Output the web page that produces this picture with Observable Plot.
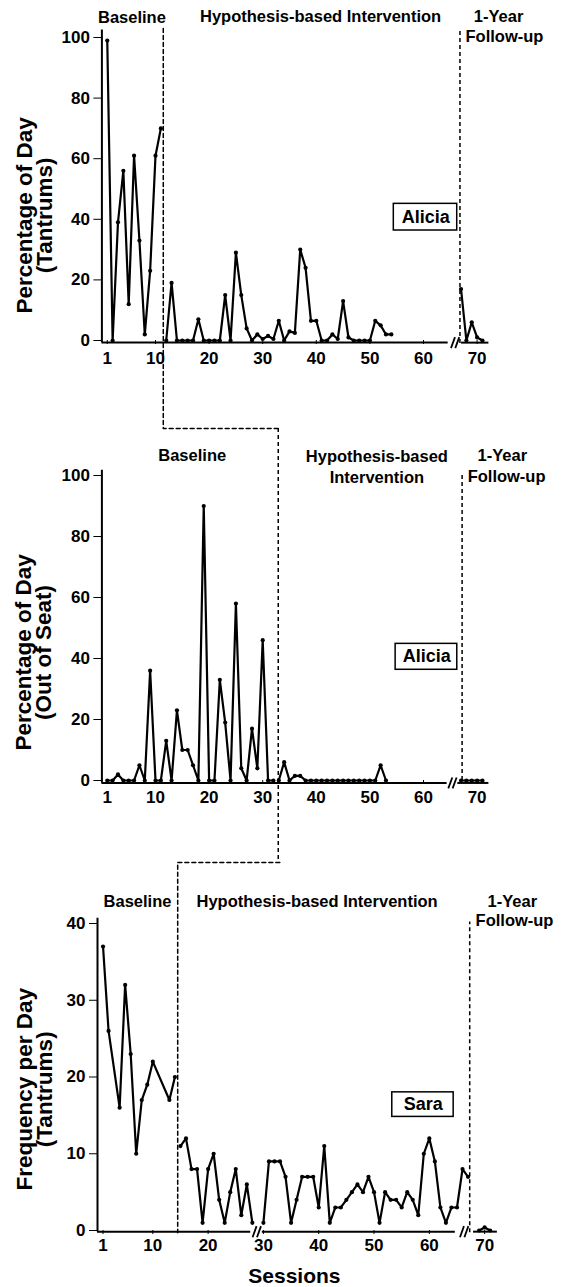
<!DOCTYPE html>
<html><head><meta charset="utf-8">
<script src="https://cdn.jsdelivr.net/npm/d3@7"></script>
<script src="https://cdn.jsdelivr.net/npm/@observablehq/plot@0.6"></script>
<style>
body{margin:0;background:#fff;}
#chart{position:relative;width:566px;height:1287px;background:#fff;}
#chart svg{position:absolute;left:0;overflow:visible;}
</style></head><body><div id="chart"></div>
<script>
// ---------- data ----------
const sessionTicks = [1, 10, 20, 30, 40, 50, 60, 70];
const pctTicks = [0, 20, 40, 60, 80, 100];
const freqTicks = [0, 10, 20, 30, 40];
const phaseNames = ["Baseline", "Hypothesis-based Intervention", "1-Year", "Follow-up"];

// Panel 1: Alicia, tantrums (% of day)
const aliciaTantrumBaseline = [99, 0, 39, 56, 12, 61, 33, 2, 23, 61, 70];            // sessions 1-11
const aliciaTantrumIntervention = [0, 19, 0, 0, 0, 0, 7, 0, 0, 0, 0, 15, 0, 29, 15, 4, 0, 2, 0.5, 1.5, 0.5, 6.5, 0, 3, 2.5, 30, 24, 6.5, 6.5, 0, 0, 2, 0.5, 13, 1, 0, 0, 0, 0, 6.5, 5, 2, 2]; // sessions 12-54
const aliciaTantrumFollowup = [17, 0, 6, 1, 0];                                      // sessions 67-71

// Panel 2: Alicia, out of seat (% of day)
const aliciaSeatBaseline = [0, 0, 2, 0, 0, 0, 5, 0, 36, 0, 0, 13, 0, 23, 10, 10, 5, 0, 90, 0, 0, 33, 19, 0, 58, 4, 0, 17, 4, 46, 0, 0]; // sessions 1-32
const aliciaSeatIntervention = [0, 6, 0, 1.5, 1.5, 0, 0, 0, 0, 0, 0, 0, 0, 0, 0, 0, 0, 0, 0, 5, 0];   // sessions 33-53
const aliciaSeatFollowup = [0, 0, 0, 0, 0];                                                          // sessions 67-71

// Panel 3: Sara, tantrums (frequency per day)
const saraBaselineSessions = [1, 2, 4, 5, 6, 7, 8, 9, 10, 13, 14];
const saraBaseline = [37, 26, 16, 32, 23, 10, 17, 19, 22, 17, 20];
const saraInterventionA = [11, 12, 8, 8, 1, 8, 10, 4, 1, 5, 8, 2, 6, 1];             // sessions 15-28
const saraInterventionB = [1, 9, 9, 9, 7, 1, 4, 7, 7, 7, 3, 11, 1, 3, 3, 4, 5, 6, 5, 7, 5, 1, 5, 4, 4, 3, 5, 4, 2, 10, 12, 9, 3, 1, 3, 3, 8, 7]; // sessions 30-67
const saraFollowupSessions = [69, 70, 71];
const saraFollowup = [0, 0.4, 0];

// ---------- helpers ----------
const seq = (start, values, phase) => values.map((v, i) => ({session: start + i, value: v, phase}));
const font = "'Liberation Sans', Arial, Helvetica, sans-serif";
const baseStyle = {fontFamily: font, fontSize: "17px", fontWeight: "bold", background: "transparent", overflow: "visible", color: "black"};
const dash = "4,3";
const txt = (s, x, y, o = {}) => Plot.text([s], {x, y, text: d => d, fontSize: 16.5, fontWeight: "bold", fill: "black", lineAnchor: "middle", ...o});
const dataMarks = rows => [
  Plot.line(rows, {x: "session", y: "value", z: "phase", stroke: "black", strokeWidth: 2.2, strokeLinejoin: "round"}),
  Plot.dot(rows, {x: "session", y: "value", r: 2.1, fill: "black", stroke: "none"})
];
// axis-break "//" marks drawn as two slanted strokes
const breakMarks = (centers, y0, h, lean, gap) => centers.flatMap(c => [-gap / 2, gap / 2].map(o => ({x1: c + o - lean / 2, y1: y0 - h / 2, x2: c + o + lean / 2, y2: y0 + h / 2})));
const breakLinks = segs => Plot.link(segs, {x1: "x1", y1: "y1", x2: "x2", y2: "y2", stroke: "black", strokeWidth: 1.8});
const chart = document.getElementById("chart");
function place(svg, top) { svg.style.top = top + "px"; chart.appendChild(svg); }

// ---------- panel 1 ----------
const rows1 = [
  ...seq(1, aliciaTantrumBaseline, "b"),
  ...seq(12, aliciaTantrumIntervention, "i"),
  ...seq(67, aliciaTantrumFollowup, "f")
];
const p1 = Plot.plot({
  width: 566, height: 430,
  marginLeft: 101.4, marginRight: 77.6, marginTop: 37, marginBottom: 90,
  x: {domain: [0, 72.2]},
  y: {domain: [0, 100]},
  style: baseStyle,
  marks: [
    Plot.ruleX([0], {y1: -0.7, y2: 102.5, strokeWidth: 2}),
    Plot.axisY({ticks: pctTicks, tickSize: 8, tickPadding: 4, label: null, fontSize: 17}),
    Plot.ruleY([[0, 64.6], [67.1, 72.2]], {y: -0.7, x1: d => d[0], x2: d => d[1], strokeWidth: 2}),
    Plot.axisX({ticks: sessionTicks, tickSize: 4, tickPadding: 7, label: null, fontSize: 17}),
    breakLinks(breakMarks([65.9], -0.7, 3.6, 0.75, 0.8)),
    Plot.line([[11.45, 103], [11.45, -29.05], [32.9, -29.05]], {x: d => d[0], y: d => d[1], stroke: "black", strokeWidth: 1.5, strokeDasharray: dash}),
    Plot.ruleX([66.8], {y1: -1, y2: 102, stroke: "black", strokeWidth: 1.5, strokeDasharray: dash}),
    ...dataMarks(rows1),
    Plot.rect([0], {x1: 54.46, x2: 66.29, y1: 36.3, y2: 45.1, fill: "white", stroke: "black", strokeWidth: 1.5}),
    txt("Alicia", 60.4, 40.7, {fontSize: 18}),
    txt(phaseNames[0], 5.6, 106.5),
    txt(phaseNames[1], 40.8, 106.7),
    txt(phaseNames[2], 74.0, 106.7),
    txt(phaseNames[3], 75.1, 100.1),
    txt("Percentage of Day\n(Tantrums)", -12.4, 41.3, {rotate: -90, fontSize: 22.5, lineHeight: 0.88})
  ]
});
place(p1, 0);

// ---------- panel 2 ----------
const rows2 = [
  ...seq(1, aliciaSeatBaseline, "b"),
  ...seq(33, aliciaSeatIntervention, "i"),
  ...seq(67, aliciaSeatFollowup, "f")
];
const p2 = Plot.plot({
  width: 566, height: 430,
  marginLeft: 101.4, marginRight: 77.6, marginTop: 45, marginBottom: 80,
  x: {domain: [0, 72.2]},
  y: {domain: [0, 100]},
  style: baseStyle,
  marks: [
    Plot.ruleX([0], {y1: -0.8, y2: 101.7, strokeWidth: 2}),
    Plot.axisY({ticks: pctTicks, tickSize: 8, tickPadding: 4, label: null, fontSize: 17}),
    Plot.ruleY([[0, 64.4], [66.4, 72.2]], {y: -0.8, x1: d => d[0], x2: d => d[1], strokeWidth: 2}),
    Plot.axisX({ticks: sessionTicks, tickSize: 4, tickPadding: 6, label: null, fontSize: 17}),
    breakLinks(breakMarks([65.4], -0.8, 3.6, 0.75, 0.8)),
    Plot.ruleX([32.9], {y1: 115.4, y2: -26.9, stroke: "black", strokeWidth: 1.5, strokeDasharray: dash}),
    Plot.ruleX([67.2], {y1: 0, y2: 101, stroke: "black", strokeWidth: 1.5, strokeDasharray: dash}),
    ...dataMarks(rows2),
    Plot.rect([0], {x1: 54.8, x2: 66.3, y1: 36.3, y2: 44.8, fill: "white", stroke: "black", strokeWidth: 1.5}),
    txt("Alicia", 60.6, 40.6, {fontSize: 18}),
    txt(phaseNames[0], 16.85, 106.6),
    txt("Hypothesis-based\nIntervention", 51.3, 103.2, {lineHeight: 1.3}),
    txt(phaseNames[2], 74.7, 106.6),
    txt(phaseNames[3], 75.5, 99.7),
    txt("Percentage of Day\n(Out of Seat)", -12.6, 42, {rotate: -90, fontSize: 22.5, lineHeight: 0.88})
  ]
});
place(p2, 430);

// ---------- panel 3 ----------
const rows3 = [
  ...saraBaselineSessions.map((s, i) => ({session: s, value: saraBaseline[i], phase: "b"})),
  ...seq(15, saraInterventionA, "ia"),
  ...seq(30, saraInterventionB, "ib"),
  ...saraFollowupSessions.map((s, i) => ({session: s, value: saraFollowup[i], phase: "f"}))
];
const p3 = Plot.plot({
  width: 566, height: 427,
  marginLeft: 97, marginRight: 70.8, marginTop: 63, marginBottom: 57,
  x: {domain: [0, 72]},
  y: {domain: [0, 40]},
  style: baseStyle,
  marks: [
    Plot.ruleX([0], {y1: -0.15, y2: 40.7, strokeWidth: 2}),
    Plot.axisY({ticks: freqTicks, tickSize: 8, tickPadding: 4, label: null, fontSize: 17}),
    Plot.ruleY([[0, 27.7], [29.8, 64.7], [68, 72.3]], {y: -0.15, x1: d => d[0], x2: d => d[1], strokeWidth: 2}),
    Plot.axisX({ticks: sessionTicks, tickSize: 4, tickPadding: 4, label: null, fontSize: 17}),
    breakLinks(breakMarks([28.8, 66.3], -0.15, 1.45, 0.72, 0.8)),
    Plot.line([[32.97, 47.95], [14.5, 47.95], [14.5, -0.3]], {x: d => d[0], y: d => d[1], stroke: "black", strokeWidth: 1.5, strokeDasharray: dash}),
    Plot.ruleX([67.3], {y1: -0.3, y2: 40.2, stroke: "black", strokeWidth: 1.5, strokeDasharray: dash}),
    ...dataMarks(rows3),
    Plot.rect([0], {x1: 53.3, x2: 64.4, y1: 14.8, y2: 18.0, fill: "white", stroke: "black", strokeWidth: 1.5}),
    txt("Sara", 58.9, 16.4, {fontSize: 18}),
    txt(phaseNames[0], 7.23, 42.9),
    txt(phaseNames[1], 39.7, 42.9),
    txt(phaseNames[2], 75.0, 42.9),
    txt(phaseNames[3], 75.4, 40.3),
    txt("Frequency per Day\n(Tantrums)", -11.2, 18.4, {rotate: -90, fontSize: 22.5, lineHeight: 0.88}),
    txt("Sessions", 35.6, -6.0, {fontSize: 21})
  ]
});
place(p3, 860);
</script></body></html>
